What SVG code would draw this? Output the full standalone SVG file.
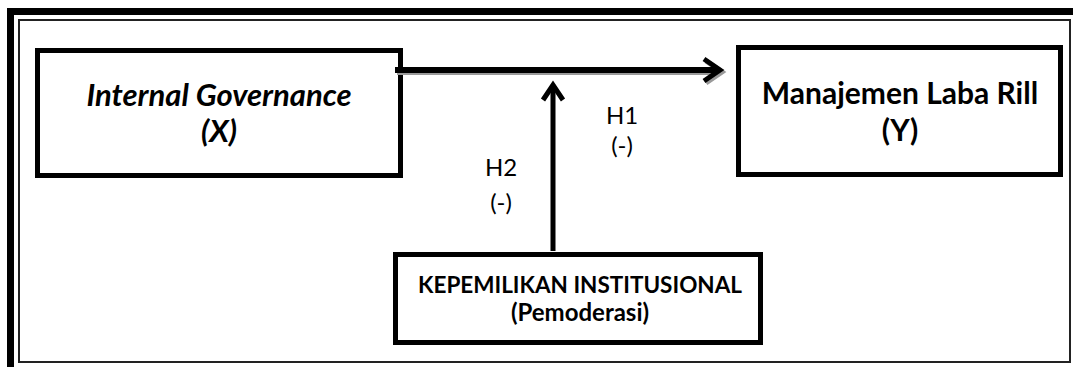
<svg xmlns="http://www.w3.org/2000/svg" width="1073" height="367" viewBox="0 0 1073 367">
<style>
.box{fill:#fff;stroke:#000;stroke-width:5}
.t{font-family:Lato,"Open Sans",sans-serif;font-weight:bold;fill:#000;text-anchor:middle}
.h{font-family:Lato,"Open Sans",sans-serif;fill:#000;text-anchor:middle;font-size:24px}
.ln{fill:none;stroke:#000;stroke-linecap:butt}
.sh{fill:none;stroke:#9a9a9a}
</style>
<rect width="1073" height="367" fill="#fff"/>
<g id="frame">
<rect x="7" y="8" width="1066" height="7" fill="#000"/>
<rect x="7" y="8" width="7" height="359" fill="#000"/>
<rect x="19" y="20" width="1051" height="342" fill="none" stroke="#222" stroke-width="2"/>
</g>
<g id="node-x">
<rect class="box" x="37.5" y="50.5" width="363" height="125"/>
<text class="t" x="219" y="106" font-size="31" font-style="italic">Internal Governance</text>
<text class="t" x="219" y="142" font-size="31" font-style="italic">(X)</text>
</g>
<g id="node-y">
<rect class="box" x="738.5" y="47.5" width="322" height="127"/>
<text class="t" x="900" y="104" font-size="30">Manajemen Laba Rill</text>
<text class="t" x="900" y="141" font-size="30">(Y)</text>
</g>
<g id="node-m">
<rect class="box" x="395.5" y="254.5" width="365" height="88"/>
<text class="t" x="580" y="293" font-size="22.5">KEPEMILIKAN INSTITUSIONAL</text>
<text class="t" x="580" y="321" font-size="24">(Pemoderasi)</text>
</g>
<g id="connectors">
<path class="sh" stroke-width="6" d="M397 72 H721"/>
<path class="sh" stroke-width="5" d="M706 61 L722 72 L706 83"/>
<path class="ln" stroke-width="6" d="M395 70 H719"/>
<path class="ln" stroke-width="5" stroke-linejoin="miter" d="M704 59 L720 70 L704 81"/>
<path class="ln" stroke-width="5" d="M553 251 V86"/>
<path class="ln" stroke-width="5" d="M543 100 L553 85 L563 100"/>
</g>
<g id="labels">
<text class="h" x="622" y="124">H1</text>
<text class="h" x="622" y="154">(-)</text>
<text class="h" x="501" y="176">H2</text>
<text class="h" x="501" y="211">(-)</text>
</g>
</svg>
